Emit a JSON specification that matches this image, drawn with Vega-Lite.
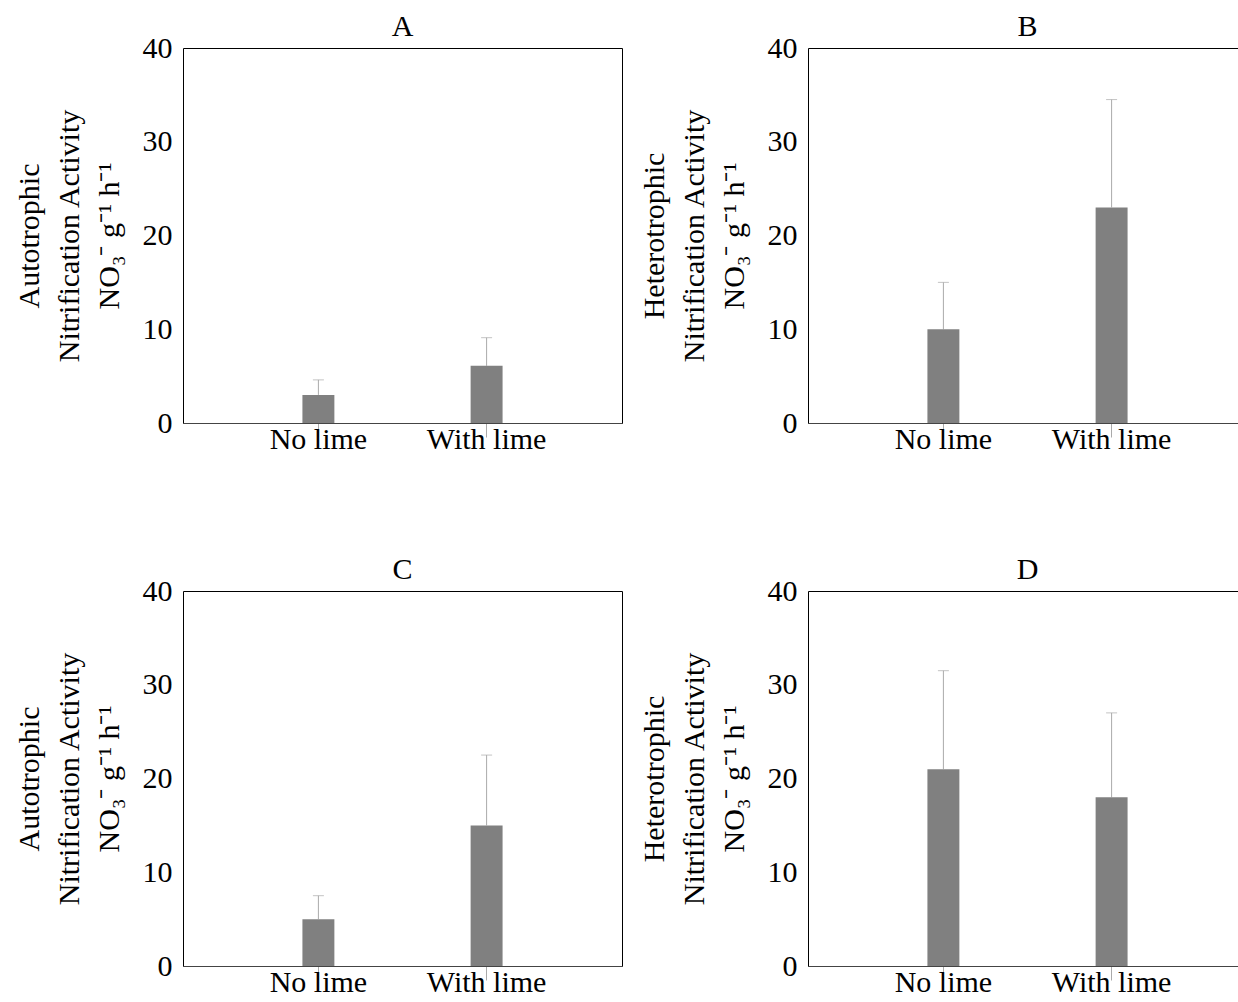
{
  "$schema": "https://vega.github.io/schema/vega-lite/v6.json",
  "padding": {"left": 13, "top": 11, "right": 0, "bottom": 0},
  "data": {
    "values": [
      {"panel": "A", "treatment": "No lime", "value": 3, "upper": 4.6},
      {"panel": "A", "treatment": "With lime", "value": 6.1, "upper": 9.1},
      {"panel": "B", "treatment": "No lime", "value": 10, "upper": 15},
      {"panel": "B", "treatment": "With lime", "value": 23, "upper": 34.5},
      {"panel": "C", "treatment": "No lime", "value": 5, "upper": 7.5},
      {"panel": "C", "treatment": "With lime", "value": 15, "upper": 22.5},
      {"panel": "D", "treatment": "No lime", "value": 21, "upper": 31.5},
      {"panel": "D", "treatment": "With lime", "value": 18, "upper": 27}
    ]
  },
  "config": {
    "font": "Liberation Serif",
    "view": {"stroke": "black", "strokeWidth": 1},
    "axis": {"labelFont": "Liberation Serif", "titleFont": "Liberation Serif", "labelColor": "black", "titleColor": "black", "grid": false},
    "title": {"font": "Liberation Serif", "fontSize": 30, "fontWeight": "normal", "color": "black", "frame": "group", "offset": -9}
  },
  "columns": 2,
  "spacing": {"column": 15, "row": 99},
  "concat": [
    {
      "title": "A",
      "width": 439, "height": 375,
      "transform": [{"filter": "datum.panel === 'A'"}],
      "encoding": {
        "x": {"field": "treatment", "type": "nominal", "sort": ["No lime", "With lime"],
          "scale": {"type": "band", "paddingInner": 0.81, "paddingOuter": 0.71},
          "axis": {"title": null, "labelAngle": 0, "labelFont": "Liberation Serif", "labelFontSize": 30, "domainColor": "#444", "tickColor": "#aaa", "tickSize": 14, "labelPadding": -13}}
      },
      "layer": [
        {"mark": {"type": "rule", "color": "#aaa", "strokeWidth": 1},
          "encoding": {"y": {"field": "value", "type": "quantitative"}, "y2": {"field": "upper"}}},
        {"mark": {"type": "tick", "color": "#aaa", "size": 11, "thickness": 1, "orient": "horizontal"},
          "encoding": {"y": {"field": "upper", "type": "quantitative"}}},
        {"mark": {"type": "bar", "color": "#808080"},
          "encoding": {"y": {"field": "value", "type": "quantitative",
            "scale": {"domain": [0, 40], "nice": false},
            "axis": {"values": [0, 10, 20, 30, 40], "ticks": false, "domain": false, "labelFont": "Liberation Serif", "labelFontSize": 30, "labelPadding": 11,
              "title": ["Autotrophic", "Nitrification Activity", "NO₃⁻ g⁻¹ h⁻¹"], "titleFontSize": 30, "titleFontWeight": "normal", "titleLineHeight": 40, "titlePadding": 18}}}}
      ]
    },
    {
      "title": "B",
      "width": 439, "height": 375,
      "transform": [{"filter": "datum.panel === 'B'"}],
      "encoding": {
        "x": {"field": "treatment", "type": "nominal", "sort": ["No lime", "With lime"],
          "scale": {"type": "band", "paddingInner": 0.81, "paddingOuter": 0.71},
          "axis": {"title": null, "labelAngle": 0, "labelFont": "Liberation Serif", "labelFontSize": 30, "domainColor": "#444", "tickColor": "#aaa", "tickSize": 14, "labelPadding": -13}}
      },
      "layer": [
        {"mark": {"type": "rule", "color": "#aaa", "strokeWidth": 1},
          "encoding": {"y": {"field": "value", "type": "quantitative"}, "y2": {"field": "upper"}}},
        {"mark": {"type": "tick", "color": "#aaa", "size": 11, "thickness": 1, "orient": "horizontal"},
          "encoding": {"y": {"field": "upper", "type": "quantitative"}}},
        {"mark": {"type": "bar", "color": "#808080"},
          "encoding": {"y": {"field": "value", "type": "quantitative",
            "scale": {"domain": [0, 40], "nice": false},
            "axis": {"values": [0, 10, 20, 30, 40], "ticks": false, "domain": false, "labelFont": "Liberation Serif", "labelFontSize": 30, "labelPadding": 11,
              "title": ["Heterotrophic", "Nitrification Activity", "NO₃⁻ g⁻¹ h⁻¹"], "titleFontSize": 30, "titleFontWeight": "normal", "titleLineHeight": 40, "titlePadding": 18}}}}
      ]
    },
    {
      "title": "C",
      "width": 439, "height": 375,
      "transform": [{"filter": "datum.panel === 'C'"}],
      "encoding": {
        "x": {"field": "treatment", "type": "nominal", "sort": ["No lime", "With lime"],
          "scale": {"type": "band", "paddingInner": 0.81, "paddingOuter": 0.71},
          "axis": {"title": null, "labelAngle": 0, "labelFont": "Liberation Serif", "labelFontSize": 30, "domainColor": "#444", "tickColor": "#aaa", "tickSize": 14, "labelPadding": -13}}
      },
      "layer": [
        {"mark": {"type": "rule", "color": "#aaa", "strokeWidth": 1},
          "encoding": {"y": {"field": "value", "type": "quantitative"}, "y2": {"field": "upper"}}},
        {"mark": {"type": "tick", "color": "#aaa", "size": 11, "thickness": 1, "orient": "horizontal"},
          "encoding": {"y": {"field": "upper", "type": "quantitative"}}},
        {"mark": {"type": "bar", "color": "#808080"},
          "encoding": {"y": {"field": "value", "type": "quantitative",
            "scale": {"domain": [0, 40], "nice": false},
            "axis": {"values": [0, 10, 20, 30, 40], "ticks": false, "domain": false, "labelFont": "Liberation Serif", "labelFontSize": 30, "labelPadding": 11,
              "title": ["Autotrophic", "Nitrification Activity", "NO₃⁻ g⁻¹ h⁻¹"], "titleFontSize": 30, "titleFontWeight": "normal", "titleLineHeight": 40, "titlePadding": 18}}}}
      ]
    },
    {
      "title": "D",
      "width": 439, "height": 375,
      "transform": [{"filter": "datum.panel === 'D'"}],
      "encoding": {
        "x": {"field": "treatment", "type": "nominal", "sort": ["No lime", "With lime"],
          "scale": {"type": "band", "paddingInner": 0.81, "paddingOuter": 0.71},
          "axis": {"title": null, "labelAngle": 0, "labelFont": "Liberation Serif", "labelFontSize": 30, "domainColor": "#444", "tickColor": "#aaa", "tickSize": 14, "labelPadding": -13}}
      },
      "layer": [
        {"mark": {"type": "rule", "color": "#aaa", "strokeWidth": 1},
          "encoding": {"y": {"field": "value", "type": "quantitative"}, "y2": {"field": "upper"}}},
        {"mark": {"type": "tick", "color": "#aaa", "size": 11, "thickness": 1, "orient": "horizontal"},
          "encoding": {"y": {"field": "upper", "type": "quantitative"}}},
        {"mark": {"type": "bar", "color": "#808080"},
          "encoding": {"y": {"field": "value", "type": "quantitative",
            "scale": {"domain": [0, 40], "nice": false},
            "axis": {"values": [0, 10, 20, 30, 40], "ticks": false, "domain": false, "labelFont": "Liberation Serif", "labelFontSize": 30, "labelPadding": 11,
              "title": ["Heterotrophic", "Nitrification Activity", "NO₃⁻ g⁻¹ h⁻¹"], "titleFontSize": 30, "titleFontWeight": "normal", "titleLineHeight": 40, "titlePadding": 18}}}}
      ]
    }
  ]
}
